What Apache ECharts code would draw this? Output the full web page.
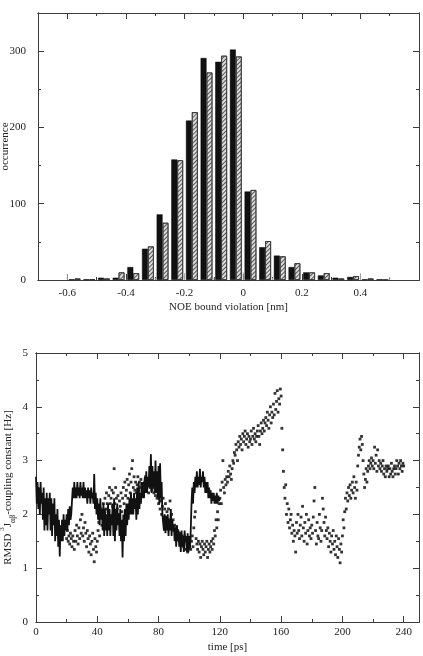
<!DOCTYPE html>
<html lang="en">
<head>
<meta charset="UTF-8">
<title>NOE bound violations and J-coupling RMSD</title>
<script src="https://cdn.jsdelivr.net/npm/echarts@6/dist/echarts.min.js"></script>
<style>
html, body { margin: 0; padding: 0; background: #fff; }
#main { width: 423px; height: 656px; }
</style>
</head>
<body>
<div id="main"></div>
<script type="text/javascript">
// ---- top panel: histogram of NOE bound violations (bins of 0.05 nm) ----
var binCenters = [-0.575, -0.525, -0.475, -0.425, -0.375, -0.325, -0.275, -0.225, -0.175, -0.125, -0.075,
                  -0.025, 0.025, 0.075, 0.125, 0.175, 0.225, 0.275, 0.325, 0.375, 0.425, 0.475];
var blackCounts = [1, 1, 3, 3, 17, 41, 86, 158, 209, 291, 286, 302, 116, 43, 32, 17, 10, 6, 3, 4, 1, 1];
var hatchCounts = [2, 1, 2, 10, 9, 44, 75, 157, 220, 272, 294, 293, 118, 51, 31, 22, 10, 9, 2, 5, 2, 0];
// thin grey marks sitting on the baseline
var greyPos = [-0.6, -0.3, -0.2, -0.1, 0, 0.1, 0.4, 0.5];
var greyCounts = [8, 3, 9, 3, 10, 3, 9, 4];
var violationTicks = [-0.6, -0.4, -0.2, 0, 0.2, 0.4];
var countTicks = [0, 100, 200, 300];

// ---- bottom panel: RMSD of 3J(alpha-beta) coupling constants vs time ----
var timeTicks = [0, 40, 80, 120, 160, 200, 240];
var rmsdTicks = [0, 1, 2, 3, 4, 5];
// solid (noisy) line, one value every 0.5 ps from 0 ps
var lineStart = 0, lineStep = 0.5;
var lineValues = [
  2.7, 2.2, 2.6, 2.1, 2.5, 2.0, 2.6, 2.2, 2.4, 1.9, 2.5, 1.7, 2.3, 1.8, 2.4, 1.7, 2.3, 2.0, 2.4, 1.7,
  2.3, 1.6, 2.2, 1.8, 2.3, 1.5, 2.0, 1.6, 2.1, 1.4, 1.9, 1.22, 1.8, 1.5, 1.9, 1.5, 2.0, 1.6, 1.9, 1.7,
  2.0, 1.7, 2.1, 1.8, 2.15, 1.9, 2.0, 2.0, 2.5, 2.3, 2.6, 2.3, 2.5, 2.3, 2.6, 2.35, 2.5, 2.3, 2.6, 2.35,
  2.5, 2.3, 2.6, 2.3, 2.5, 2.3, 2.45, 2.2, 2.5, 2.3, 2.45, 2.2, 2.5, 2.3, 2.4, 2.2, 2.75, 2.1, 2.4, 2.0,
  2.3, 1.9, 2.2, 1.8, 2.3, 1.9, 2.1, 1.7, 2.2, 1.6, 2.1, 1.7, 2.0, 1.6, 2.2, 1.7, 2.1, 1.6, 2.0, 1.8,
  2.2, 1.6, 2.3, 1.5, 2.1, 1.7, 2.2, 1.8, 2.0, 1.6, 2.1, 1.5, 1.9, 1.2, 2.0, 1.5, 2.1, 1.6, 2.2, 1.8,
  2.2, 1.9, 2.3, 2.0, 2.4, 2.0, 2.3, 2.0, 2.4, 2.1, 2.3, 1.9, 2.5, 2.0, 2.6, 2.1, 2.4, 2.2, 2.6, 2.3,
  2.6, 2.3, 2.7, 2.4, 2.8, 2.4, 2.7, 2.5, 2.9, 2.5, 3.12, 2.4, 2.9, 2.5, 2.8, 2.4, 3.0, 2.4, 2.8, 2.3,
  2.9, 2.2, 2.95, 2.3, 2.6, 2.0, 2.0, 1.7, 2.0, 1.65, 1.95, 1.7, 2.0, 1.6, 1.9, 1.7, 2.1, 1.6, 1.9, 1.7,
  1.8, 1.5, 1.75, 1.4, 1.8, 1.5, 1.7, 1.4, 1.65, 1.3, 1.7, 1.4, 1.6, 1.3, 1.7, 1.5, 1.6, 1.3, 1.65, 1.3,
  1.6, 1.35, 1.7, 2.2, 2.5, 2.2, 2.6, 2.4, 2.7, 2.5, 2.8, 2.5, 2.7, 2.55, 2.85, 2.5, 2.7, 2.6, 2.8, 2.5,
  2.7, 2.4, 2.6, 2.4, 2.6, 2.3, 2.5, 2.3, 2.45, 2.2, 2.4, 2.25, 2.4, 2.2, 2.35, 2.2, 2.4, 2.2, 2.35, 2.25,
  2.3
];
// dotted series, one value every 0.5 ps from 20 ps
var dotStart = 20, dotStep = 0.5;
var dotValues = [
  1.55, 1.7, 1.5, 1.6, 1.45, 1.65, 1.55, 1.4, 1.6, 1.5,
  1.35, 1.7, 1.5, 1.8, 1.6, 1.45, 1.75, 1.55, 1.9, 1.65,
  2.0, 1.6, 1.75, 1.5, 1.85, 1.65, 1.4, 1.7, 1.55, 1.3,
  1.6, 1.45, 1.25, 1.5, 1.65, 1.35, 1.12, 1.55, 1.4, 1.3,
  1.5, 1.7, 1.85, 1.6, 1.95, 2.1, 1.8, 2.05, 2.2, 1.95,
  2.3, 2.1, 2.4, 2.2, 2.05, 2.35, 2.5, 2.2, 2.3, 2.45,
  2.15, 2.4, 2.85, 2.2, 2.5, 2.3, 2.1, 2.35, 2.0, 2.25,
  2.15, 2.4, 2.05, 2.3, 2.5, 2.2, 2.6, 2.35, 2.45, 2.65,
  2.3, 2.55, 2.75, 2.4, 2.6, 2.85, 3.0, 2.5, 2.7, 2.45,
  2.6, 2.4, 2.55, 2.7, 2.45, 2.6, 2.5, 2.65, 2.55, 2.4,
  2.55, 2.45, 2.6, 2.7, 2.5, 2.65, 2.6, 2.4, 2.55, 2.5,
  2.6, 2.45, 2.7, 2.5, 2.4, 2.55, 2.35, 2.5, 2.3, 2.45,
  2.2, 2.3, 2.1, 2.25, 2.0, 2.15, 2.3, 1.95, 2.1, 2.2,
  1.95, 2.05, 1.8, 2.1, 1.9, 2.25, 1.85, 2.0, 1.75, 1.9,
  1.7, 1.8, 1.6, 1.75, 1.55, 1.7, 1.6, 1.5, 1.65, 1.55,
  1.45, 1.6, 1.5, 1.4, 1.55, 1.35, 1.5, 1.45, 1.3, 1.5,
  1.45, 1.55, 1.35, 1.5, 1.6, 1.4, 1.75, 1.95, 2.05, 1.55,
  1.45, 1.35, 1.5, 1.3, 1.45, 1.2, 1.4, 1.5, 1.35, 1.25,
  1.45, 1.3, 1.4, 1.5, 1.2, 1.35, 1.45, 1.3, 1.4, 1.5,
  1.35, 1.55, 1.45, 1.7, 1.6, 1.9, 1.75, 2.05, 1.9, 2.2,
  2.3, 2.45, 2.2, 2.6, 3.0, 2.5, 2.4, 2.65, 2.55, 2.7,
  2.6, 2.8, 2.7, 2.9, 2.75, 2.65, 2.85, 3.0, 2.95, 3.15,
  3.1, 3.3, 3.2, 3.0, 3.35, 3.25, 3.45, 3.3, 3.4, 3.2,
  3.5, 3.35, 3.45, 3.55, 3.3, 3.4, 3.5, 3.25, 3.45, 3.35,
  3.4, 3.55, 3.3, 3.45, 3.6, 3.4, 3.5, 3.35, 3.45, 3.55,
  3.65, 3.45, 3.3, 3.55, 3.7, 3.5, 3.6, 3.75, 3.55, 3.7,
  3.8, 3.65, 3.9, 3.75, 3.6, 3.85, 4.0, 3.7, 3.9, 3.8,
  4.05, 3.85, 4.25, 3.95, 4.1, 4.3, 3.9, 4.15, 4.05, 4.33,
  4.2, 3.6, 3.2, 2.8, 2.5, 2.3, 2.55, 2.0, 2.2, 1.85,
  2.1, 1.75, 1.9, 2.0, 1.65, 1.8, 1.5, 1.7, 1.6, 1.3,
  1.85, 1.65, 2.0, 1.7, 1.55, 1.8, 1.95, 1.6, 2.15, 1.75,
  1.5, 1.85, 1.65, 2.0, 1.45, 1.7, 1.9, 1.6, 1.75, 1.55,
  1.8, 1.65, 1.95, 2.25, 2.5, 1.7, 1.45, 1.85, 1.6, 1.55,
  2.0, 1.75, 1.5, 1.7, 2.3, 2.1, 1.85, 1.6, 1.95, 1.7,
  1.55, 1.75, 1.4, 1.65, 1.5, 1.3, 1.6, 1.45, 1.7, 1.35,
  1.5, 1.25, 1.6, 1.4, 1.2, 1.55, 1.35, 1.1, 1.45, 1.3,
  1.6, 1.9, 1.75, 2.05, 2.3, 2.1, 2.4, 2.25, 2.5, 2.35,
  2.55, 2.3, 2.45, 2.6, 2.4, 2.7, 2.5, 2.3, 2.6, 2.45,
  2.9, 3.1, 3.25, 3.4, 3.2, 3.45, 3.3, 3.0, 2.75, 2.5,
  2.65, 2.85, 2.6, 2.8, 2.9, 3.0, 2.85, 2.95, 3.05, 2.9,
  3.0, 2.85, 3.25, 2.95, 3.1, 2.8, 3.2, 2.9, 3.0, 2.85,
  2.95, 2.8, 2.9, 3.0, 2.75, 2.85, 2.7, 2.9, 2.8, 2.85,
  2.9, 2.7, 2.85, 2.75, 2.95, 2.8, 2.7, 2.85, 2.9, 2.75,
  2.85, 3.0, 2.9, 2.75, 2.95, 2.85, 3.0, 2.9, 2.8, 2.95,
  2.9
];

var frameColor = '#3c3c3c';
var textColor = '#222';
var serif = '"Liberation Serif", "DejaVu Serif", serif';

// one frame side: long ticks on majors (+ labels), overlaid with short minor ticks
function side(grid, pos, min, max, majors, minorStep, labels, labelMargin) {
    var line = { show: true, onZero: false, lineStyle: { color: frameColor, width: 1 } };
    var major = {
        type: 'value', gridIndex: grid, position: pos, min: min, max: max,
        axisLine: line,
        axisTick: { show: true, inside: true, length: 6, customValues: majors,
                    lineStyle: { color: frameColor, width: 1 } },
        axisLabel: { show: labels, customValues: majors, margin: labelMargin,
                     color: textColor, fontFamily: serif, fontSize: 11 },
        splitLine: { show: false }
    };
    var minor = {
        type: 'value', gridIndex: grid, position: pos, min: min, max: max, interval: minorStep,
        axisLine: line,
        axisTick: { show: true, inside: true, length: 3, lineStyle: { color: frameColor, width: 1 } },
        axisLabel: { show: false },
        splitLine: { show: false }
    };
    return [major, minor];
}

var xAxes = [].concat(
    side(0, 'bottom', -0.7, 0.6, violationTicks, 0.1, true, 8),
    side(0, 'top', -0.7, 0.6, violationTicks, 0.1, false, 8),
    side(1, 'bottom', 0, 250, timeTicks, 20, true, 5),
    side(1, 'top', 0, 250, timeTicks, 20, false, 5)
);
var yAxes = [].concat(
    side(0, 'left', 0, 350, countTicks, 50, true, 12),
    side(0, 'right', 0, 350, countTicks, 50, false, 12),
    side(1, 'left', 0, 5, rmsdTicks, 0.5, true, 8),
    side(1, 'right', 0, 5, rmsdTicks, 0.5, false, 8)
);

function setName(ax, text, gap, style) {
    ax.name = text;
    ax.nameLocation = 'middle';
    ax.nameGap = gap;
    ax.nameMoveOverlap = false;
    ax.nameTextStyle = style;
}
var nameStyle = { color: textColor, fontFamily: serif, fontSize: 11 };
setName(xAxes[0], 'NOE bound violation [nm]', 22, nameStyle);
setName(yAxes[0], 'occurrence', 27, nameStyle);
setName(xAxes[4], 'time [ps]', 20, nameStyle);
setName(yAxes[4], '{n|RMSD }{sup|3}{n|J}{sub|αβ}{n|-coupling constant [Hz]}', 19, {
    color: textColor, fontFamily: serif, fontSize: 11,
    rich: {
        n: { fontFamily: serif, fontSize: 11, color: textColor, lineHeight: 18, verticalAlign: 'middle' },
        sup: { fontFamily: serif, fontSize: 7, color: textColor, lineHeight: 18, verticalAlign: 'top' },
        sub: { fontFamily: serif, fontSize: 8, color: textColor, lineHeight: 18, verticalAlign: 'bottom' }
    }
});

function pairs(xs, ys) {
    var out = [];
    for (var i = 0; i < ys.length; i++) out.push([xs[i], ys[i]]);
    return out;
}
function series(start, step, vals) {
    var out = [];
    for (var i = 0; i < vals.length; i++) out.push([start + i * step, vals[i]]);
    return out;
}

var myChart = echarts.init(document.getElementById('main'), null, { renderer: 'canvas' });
var option = {
    backgroundColor: '#fff',
    animation: false,
    grid: [
        { left: 38, top: 13, width: 381, height: 267, containLabel: false, outerBoundsMode: 'none' },
        { left: 36, top: 353, width: 383, height: 269, containLabel: false, outerBoundsMode: 'none' }
    ],
    xAxis: xAxes,
    yAxis: yAxes,
    series: [
        {
            name: 'black', type: 'bar', xAxisIndex: 0, yAxisIndex: 0,
            barWidth: 5.9, barGap: '0%',
            itemStyle: { color: '#111', borderColor: '#000', borderWidth: 0.5 },
            data: pairs(binCenters, blackCounts)
        },
        {
            name: 'hatched', type: 'bar', xAxisIndex: 0, yAxisIndex: 0,
            barWidth: 5.9, barGap: '0%',
            itemStyle: {
                color: '#dedede', borderColor: '#333', borderWidth: 0.8,
                decal: { symbol: 'rect', symbolSize: 1, color: '#555',
                         dashArrayX: [1, 0], dashArrayY: [1, 2], rotation: -Math.PI / 4 }
            },
            data: pairs(binCenters, hatchCounts)
        },
        {
            name: 'grey', type: 'bar', xAxisIndex: 1, yAxisIndex: 0,
            barWidth: 1,
            itemStyle: { color: '#aaa' },
            data: pairs(greyPos, greyCounts)
        },
        {
            name: 'line', type: 'line', xAxisIndex: 4, yAxisIndex: 4,
            showSymbol: false, symbol: 'none',
            lineStyle: { color: '#111', width: 1.8 },
            data: series(lineStart, lineStep, lineValues)
        },
        {
            name: 'dots', type: 'scatter', xAxisIndex: 4, yAxisIndex: 4,
            symbol: 'rect', symbolSize: 2.8,
            itemStyle: { color: '#000' },
            data: series(dotStart, dotStep, dotValues)
        }
    ]
};
myChart.setOption(option);
</script>
</body>
</html>
